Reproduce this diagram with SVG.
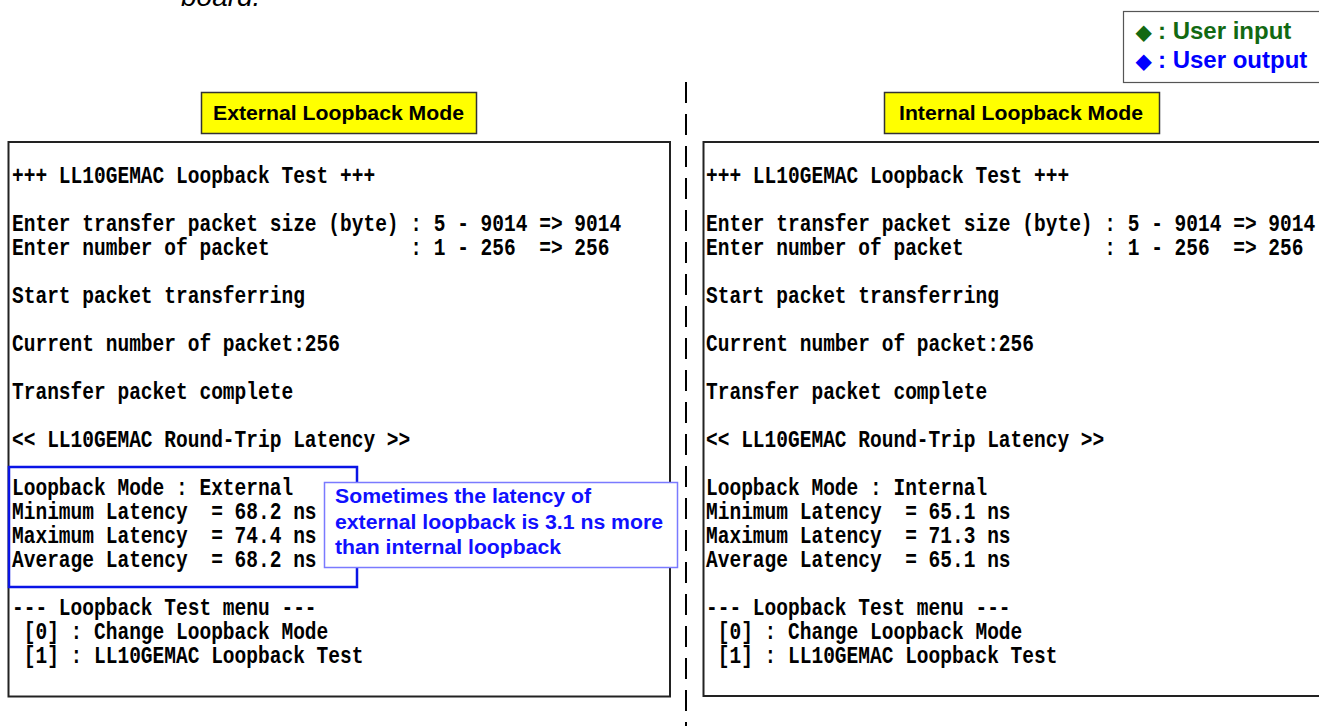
<svg xmlns="http://www.w3.org/2000/svg" width="1319" height="726" viewBox="0 0 1319 726">
<style>
.term{font-family:"Liberation Mono","DejaVu Sans Mono",monospace;font-size:23px;font-weight:bold;fill:#000;white-space:pre}
.panel{fill:#fff;stroke:#222;stroke-width:2}
.ylab{fill:#ffff00;stroke:#333;stroke-width:1.5}
.ylabt{font-family:"Liberation Sans",Arial,sans-serif;font-size:20px;font-weight:bold;fill:#000}
.note{font-family:"Liberation Sans",Arial,sans-serif;font-size:20px;font-weight:bold;fill:#1010ff}
.leg{font-family:"Liberation Sans",Arial,sans-serif;font-size:24px;font-weight:bold}
</style>
<rect width="1319" height="726" fill="#fff"/>
<text x="181" y="6" font-family="Liberation Sans, Arial, sans-serif" font-size="28" font-style="italic" fill="#000">board.</text>

<g id="legend">
<rect x="1123.5" y="11.5" width="200" height="71" fill="#fff" stroke="#555" stroke-width="1.2"/>
<text class="leg" y="39" fill="#126912"><tspan x="1136" font-size="20">◆</tspan><tspan x="1158">: User input</tspan></text>
<text class="leg" y="68" fill="#0000ff"><tspan x="1136" font-size="20">◆</tspan><tspan x="1158">: User output</tspan></text>
</g>

<g id="connectors">
<line x1="686" y1="82" x2="686" y2="726" stroke="#000" stroke-width="2" stroke-dasharray="21 11"/>
</g>

<g id="external-panel">
<rect class="panel" x="8.5" y="142" width="661.5" height="554.5"/>
<g transform="translate(12 0) scale(0.849 1)">
<text class="term" x="0" y="183">+++ LL10GEMAC Loopback Test +++</text>
<text class="term" x="0" y="231">Enter transfer packet size (byte) : 5 - 9014 =&gt; 9014</text>
<text class="term" x="0" y="255">Enter number of packet            : 1 - 256  =&gt; 256</text>
<text class="term" x="0" y="303">Start packet transferring</text>
<text class="term" x="0" y="351">Current number of packet:256</text>
<text class="term" x="0" y="399">Transfer packet complete</text>
<text class="term" x="0" y="447">&lt;&lt; LL10GEMAC Round-Trip Latency &gt;&gt;</text>
<text class="term" x="0" y="495">Loopback Mode : External</text>
<text class="term" x="0" y="519">Minimum Latency  = 68.2 ns</text>
<text class="term" x="0" y="543">Maximum Latency  = 74.4 ns</text>
<text class="term" x="0" y="567">Average Latency  = 68.2 ns</text>
<text class="term" x="0" y="615">--- Loopback Test menu ---</text>
<text class="term" x="0" y="639"> [0] : Change Loopback Mode</text>
<text class="term" x="0" y="663"> [1] : LL10GEMAC Loopback Test</text>
</g>
</g>

<g id="external-label">
<rect class="ylab" x="201.5" y="92.5" width="275" height="41"/>
<text class="ylabt" x="213" y="120" textLength="251" lengthAdjust="spacingAndGlyphs">External Loopback Mode</text>
</g>

<g id="internal-panel">
<rect class="panel" x="703.5" y="142" width="625" height="554"/>
<g transform="translate(706 0) scale(0.849 1)">
<text class="term" x="0" y="183">+++ LL10GEMAC Loopback Test +++</text>
<text class="term" x="0" y="231">Enter transfer packet size (byte) : 5 - 9014 =&gt; 9014</text>
<text class="term" x="0" y="255">Enter number of packet            : 1 - 256  =&gt; 256</text>
<text class="term" x="0" y="303">Start packet transferring</text>
<text class="term" x="0" y="351">Current number of packet:256</text>
<text class="term" x="0" y="399">Transfer packet complete</text>
<text class="term" x="0" y="447">&lt;&lt; LL10GEMAC Round-Trip Latency &gt;&gt;</text>
<text class="term" x="0" y="495">Loopback Mode : Internal</text>
<text class="term" x="0" y="519">Minimum Latency  = 65.1 ns</text>
<text class="term" x="0" y="543">Maximum Latency  = 71.3 ns</text>
<text class="term" x="0" y="567">Average Latency  = 65.1 ns</text>
<text class="term" x="0" y="615">--- Loopback Test menu ---</text>
<text class="term" x="0" y="639"> [0] : Change Loopback Mode</text>
<text class="term" x="0" y="663"> [1] : LL10GEMAC Loopback Test</text>
</g>
</g>

<g id="internal-label">
<rect class="ylab" x="884.5" y="92.5" width="275" height="41"/>
<text class="ylabt" x="899" y="120" textLength="244" lengthAdjust="spacingAndGlyphs">Internal Loopback Mode</text>
</g>

<g id="latency-highlight">
<rect x="9" y="467" width="348" height="120" fill="none" stroke="#0a14e6" stroke-width="2.5"/>
</g>

<g id="latency-note">
<rect x="324.5" y="482.5" width="353" height="85" fill="#fff" stroke="#7a7aff" stroke-width="1.5"/>
<text class="note" x="335" y="503" textLength="256" lengthAdjust="spacingAndGlyphs">Sometimes the latency of</text>
<text class="note" x="335" y="529" textLength="328" lengthAdjust="spacingAndGlyphs">external loopback is 3.1 ns more</text>
<text class="note" x="335" y="554" textLength="226" lengthAdjust="spacingAndGlyphs">than internal loopback</text>
</g>
</svg>
